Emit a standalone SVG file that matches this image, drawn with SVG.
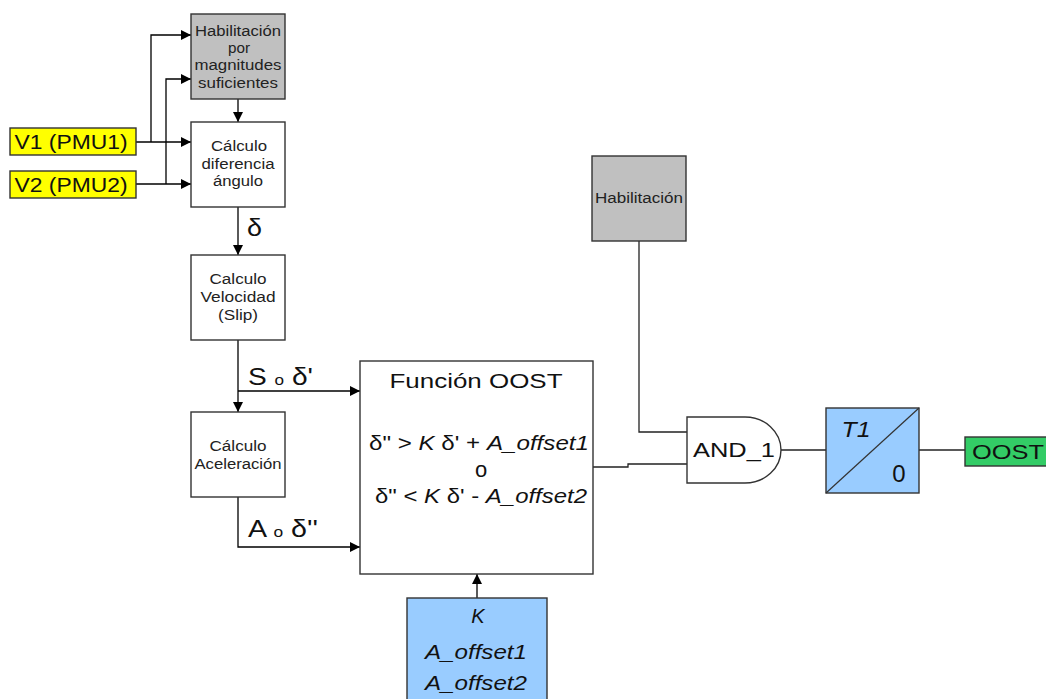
<svg xmlns="http://www.w3.org/2000/svg" width="1046" height="699" viewBox="0 0 1046 699">
<defs>
<marker id="ah" viewBox="0 0 10 10" refX="10" refY="5" markerWidth="10" markerHeight="10" markerUnits="userSpaceOnUse" orient="auto">
<path d="M0,0 L10,5 L0,10 Z" fill="#000"/>
</marker>
<style>
.box{stroke:#333;stroke-width:1.4}
.w{fill:#fff}
.g{fill:#c0c0c0}
.y{fill:#ffff00}
.b{fill:#99ccff}
.gr{fill:#33cc66}
.ln{fill:none;stroke:#222;stroke-width:1.3}
.ar{fill:none;stroke:#000;stroke-width:1.3;marker-end:url(#ah)}
.s{font-family:"Liberation Sans",Arial,sans-serif;font-size:14px;fill:#222;text-anchor:middle}
.m{font-family:"Liberation Sans",Arial,sans-serif;font-size:20px;fill:#111;text-anchor:middle}
.l{font-family:"Liberation Sans",Arial,sans-serif;font-size:23px;fill:#111}
.i{font-style:italic}
</style>
</defs>
<rect width="1046" height="699" fill="#fff"/>
<g id="connectors">
<path class="ar" d="M136,142 H191"/>
<path class="ar" d="M151,142 V35 H191"/>
<path class="ar" d="M136,184 H191"/>
<path class="ar" d="M166,184 V79 H191"/>
<path class="ar" d="M238,99 V122"/>
<path class="ar" d="M238,207 V255"/>
<path class="ar" d="M238,340 V412"/>
<path class="ar" d="M238,391 H360"/>
<path class="ar" d="M238,497 V547 H360"/>
<path class="ar" d="M477,598 V574"/>
<path class="ln" d="M593,467 H628 V464 H687"/>
<path class="ln" d="M639,241 V432 H687"/>
<path class="ln" d="M781,450 H826"/>
<path class="ln" d="M919,450 H965"/>
<text class="l" x="247" y="236" textLength="15" lengthAdjust="spacingAndGlyphs">δ</text>
<text class="l" x="248" y="385" textLength="65" lengthAdjust="spacingAndGlyphs">S <tspan font-size="14">o</tspan> δ'</text>
<text class="l" x="248" y="537" textLength="70" lengthAdjust="spacingAndGlyphs">A <tspan font-size="14">o</tspan> δ''</text>
</g>
<g id="v1">
<rect class="box y" x="10" y="128" width="126" height="27"/>
<text class="m" x="71" y="149" textLength="113" lengthAdjust="spacingAndGlyphs">V1 (PMU1)</text>
</g>
<g id="v2">
<rect class="box y" x="10" y="171" width="126" height="27"/>
<text class="m" x="71" y="192" textLength="113" lengthAdjust="spacingAndGlyphs">V2 (PMU2)</text>
</g>
<g id="hab-mag">
<rect class="box g" x="191" y="14" width="94" height="85"/>
<text class="s" x="238" y="36" textLength="86" lengthAdjust="spacingAndGlyphs">Habilitación</text>
<text class="s" x="239" y="53" textLength="22" lengthAdjust="spacingAndGlyphs">por</text>
<text class="s" x="238" y="70" textLength="87" lengthAdjust="spacingAndGlyphs">magnitudes</text>
<text class="s" x="238" y="88" textLength="80" lengthAdjust="spacingAndGlyphs">suficientes</text>
</g>
<g id="calc-dif">
<rect class="box w" x="191" y="122" width="94" height="85"/>
<text class="s" x="239" y="151" textLength="56" lengthAdjust="spacingAndGlyphs">Cálculo</text>
<text class="s" x="238" y="169" textLength="73" lengthAdjust="spacingAndGlyphs">diferencia</text>
<text class="s" x="238" y="186" textLength="50" lengthAdjust="spacingAndGlyphs">ángulo</text>
</g>
<g id="calc-vel">
<rect class="box w" x="191" y="255" width="94" height="85"/>
<text class="s" x="238" y="284" textLength="57" lengthAdjust="spacingAndGlyphs">Calculo</text>
<text class="s" x="238" y="302" textLength="75" lengthAdjust="spacingAndGlyphs">Velocidad</text>
<text class="s" x="238" y="320" textLength="40" lengthAdjust="spacingAndGlyphs">(Slip)</text>
</g>
<g id="calc-acel">
<rect class="box w" x="191" y="412" width="94" height="85"/>
<text class="s" x="238" y="451" textLength="57" lengthAdjust="spacingAndGlyphs">Cálculo</text>
<text class="s" x="238" y="469" textLength="87" lengthAdjust="spacingAndGlyphs">Aceleración</text>
</g>
<g id="funcion">
<rect class="box w" x="360" y="361" width="233" height="213"/>
<text class="m" x="476" y="388" textLength="173" lengthAdjust="spacingAndGlyphs">Función OOST</text>
<text class="m" x="479" y="450" textLength="220" lengthAdjust="spacingAndGlyphs">δ" &gt; <tspan class="i">K</tspan> δ' + <tspan class="i">A_offset1</tspan></text>
<text class="m" x="481" y="477" style="font-size:22px">o</text>
<text class="m" x="481" y="503" textLength="212" lengthAdjust="spacingAndGlyphs">δ" &lt; <tspan class="i">K</tspan> δ' - <tspan class="i">A_offset2</tspan></text>
</g>
<g id="params">
<rect class="box b" x="407" y="598" width="140" height="110"/>
<text class="m i" x="478" y="623">K</text>
<text class="m i" x="476" y="659" textLength="102" lengthAdjust="spacingAndGlyphs">A_offset1</text>
<text class="m i" x="476" y="690" textLength="102" lengthAdjust="spacingAndGlyphs">A_offset2</text>
</g>
<g id="habilitacion">
<rect class="box g" x="592" y="156" width="94" height="85"/>
<text class="s" x="639" y="203" textLength="88" lengthAdjust="spacingAndGlyphs">Habilitación</text>
</g>
<g id="and1">
<path class="box w" d="M687,417 H745 A36,33 0 0 1 745,483 H687 Z"/>
<text class="m" x="734" y="457" textLength="82" lengthAdjust="spacingAndGlyphs">AND_1</text>
</g>
<g id="t1">
<rect class="box b" x="826" y="408" width="93" height="85"/>
<path d="M826,493 L919,408" stroke="#333" stroke-width="1.2"/>
<text class="m i" x="856" y="437" style="font-size:22px" textLength="29" lengthAdjust="spacingAndGlyphs">T1</text>
<text class="m" x="899" y="482" style="font-size:24px">0</text>
</g>
<g id="oost">
<rect class="box gr" x="965" y="437" width="90" height="29"/>
<text class="m" x="1008" y="459" style="font-size:21px" textLength="72" lengthAdjust="spacingAndGlyphs">OOST</text>
</g>
</svg>
